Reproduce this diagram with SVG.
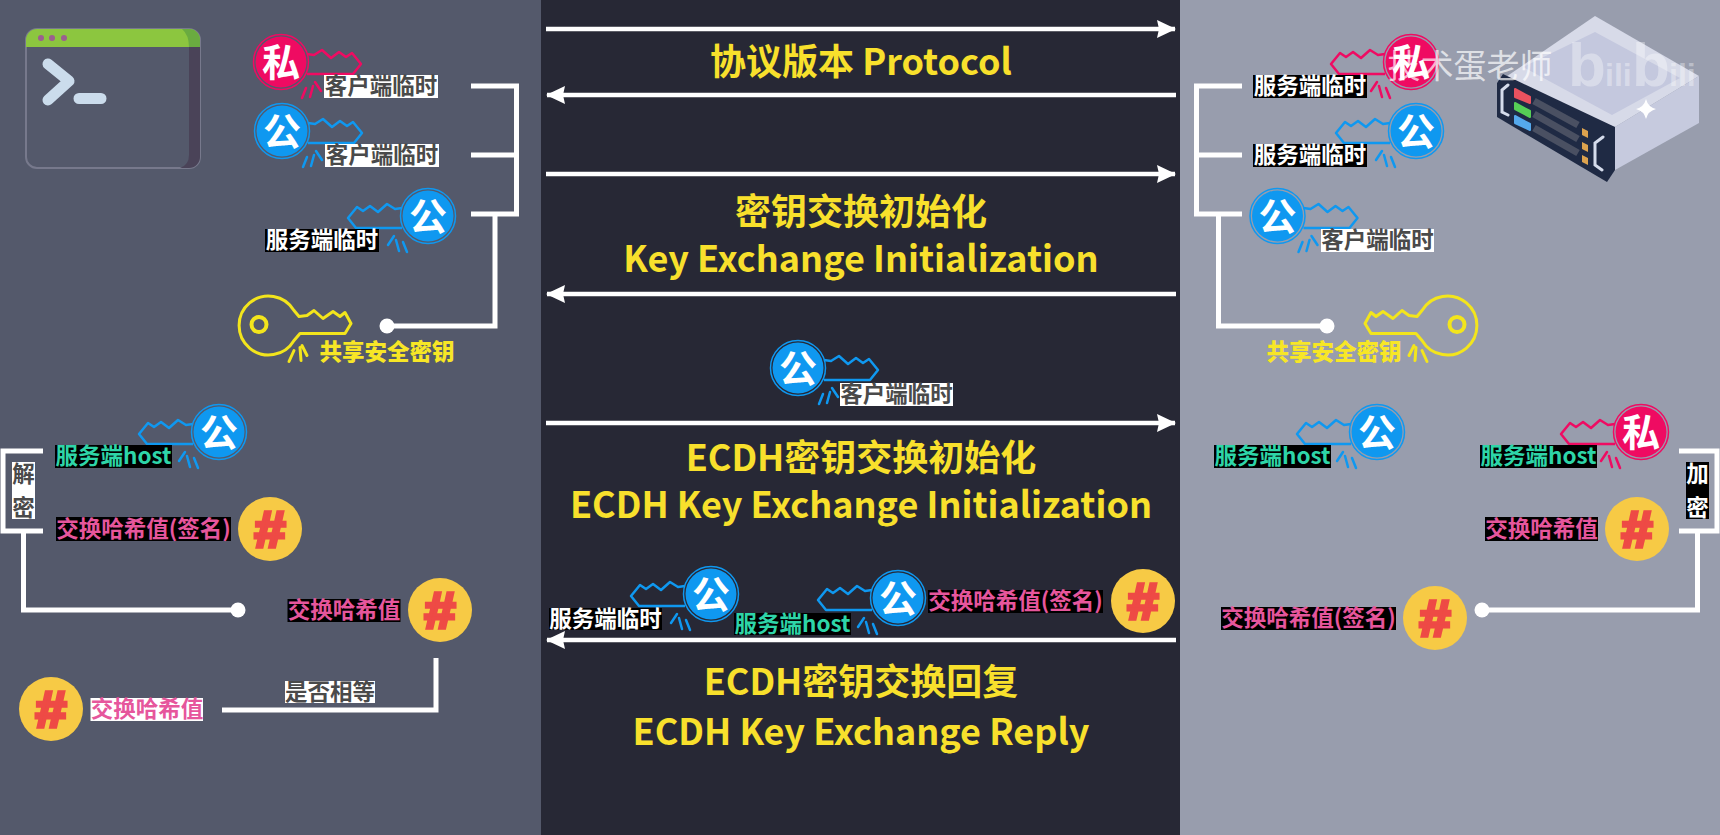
<svg xmlns="http://www.w3.org/2000/svg" width="1720" height="835" viewBox="0 0 1720 835">
<style>
text{font-family:"Noto Sans CJK SC","Liberation Sans",sans-serif;text-anchor:middle}
.t{font-size:22.5px;font-weight:700}
.dk{fill:#4a4a4a}.wh{fill:#fff}.tl{fill:#2ed5a8}.pk{fill:#e6569c}.yl{fill:#f7e626;font-weight:900}
.rw{fill:#fff}.rk{fill:#000}
.h{font-size:36px;font-weight:700;fill:#f8e02c}
.g{font-size:38px;font-weight:700;fill:#fff}
.c{fill:#f7ca45}
.n{font-family:"Liberation Sans",sans-serif;font-size:50px;font-weight:700;fill:#ee4a45;stroke:#ee4a45;stroke-width:3.5px}
.w{fill:none;stroke:#fff;stroke-width:5}
.a{fill:none;stroke:#fff;stroke-width:4.5}
.d{fill:#fff}
.bb{font-family:"Liberation Sans",sans-serif;font-weight:700;text-anchor:start;fill:#fff;fill-opacity:.35}
</style>
<defs>
<g id="key" fill="none" stroke="currentColor" stroke-width="2.5" stroke-linejoin="round">
<path d="M26,-8 L33,-7 L41,-12 L50,-4 L58,-10 L65,-5 L71,-9 L80,2 L72,12 L26,12"/>
<path d="M21,36 L25,26 M29,35 L32,24 M40,29 L34,20" stroke-linecap="round"/>
<circle r="27.5" fill="none" stroke-width="1.5"/>
<circle r="25.5" fill="currentColor" stroke="none"/>
</g>
<g id="ykey" fill="none" stroke="#f3e51c" stroke-width="3" stroke-linejoin="round">
<path d="M25,-14 L30,-8 L38,-9 L45,-14 L54,-6 L64,-13 L71,-8 L76,-12 L82,-1 L76,9 L31,9 L25,16 A29.5,29.5 0 1 1 25,-14 Z"/>
<circle cx="-10" r="7.5" stroke-width="4"/>
<path d="M20,37 L25,26 M31,23 L32,36 M38,31 L33,21" stroke-linecap="round"/>
</g>
<marker id="ah" markerUnits="userSpaceOnUse" markerWidth="20" markerHeight="20" refX="18" refY="10" orient="auto-start-reverse">
<path d="M0,1 L19,10 L0,19 L2,10 Z" fill="#fff"/>
</marker>
</defs>

<g id="panels">
<rect x="0" y="0" width="541" height="835" fill="#54596b"/>
<rect x="541" y="0" width="639" height="835" fill="#272835"/>
<rect x="1180" y="0" width="540" height="835" fill="#989dad"/>
</g>

<g id="connectors">
<line class="a" x1="546" y1="29" x2="1175" y2="29" marker-end="url(#ah)"/>
<line class="a" x1="1176" y1="95" x2="547" y2="95" marker-end="url(#ah)"/>
<line class="a" x1="546" y1="174" x2="1175" y2="174" marker-end="url(#ah)"/>
<line class="a" x1="1176" y1="294" x2="547" y2="294" marker-end="url(#ah)"/>
<line class="a" x1="546" y1="423" x2="1175" y2="423" marker-end="url(#ah)"/>
<line class="a" x1="1176" y1="640" x2="547" y2="640" marker-end="url(#ah)"/>
<path class="w" d="M471,86 H516.5 V214 H471 M471,155 H516.5 M495,214 V326 H387"/>
<circle class="d" cx="387" cy="326" r="7.5"/>
<path class="w" d="M1242,86 H1196.5 V214 H1242 M1242,155 H1196.5 M1218.5,214 V326 H1327"/>
<circle class="d" cx="1327" cy="326" r="7.5"/>
<path class="w" d="M43,451 H3 V531 H43 M23.5,531 V610 H238"/>
<circle class="d" cx="238" cy="610" r="7.5"/>
<path class="w" d="M436,658 V710 H222"/>
<path class="w" d="M1679,451 H1717 V531 H1679 M1697.5,531 V610 H1482"/>
<circle class="d" cx="1482" cy="610" r="7.5"/>
</g>

<g id="client-terminal">
<rect x="26" y="29" width="174" height="139" rx="11" fill="#54596b" stroke="#77798c" stroke-width="2"/>
<path d="M189,47 H200 V157 a11,11 0 0 1 -11,11 H180 Q189,165 189,155 Z" fill="#4a4358"/>
<path d="M26,47 V40 a11,11 0 0 1 11,-11 H189 a11,11 0 0 1 11,11 V47 Z" fill="#8cc63f"/>
<path d="M182,29 H189 a11,11 0 0 1 11,11 V47 H189 Q189,35 182,29 Z" fill="#6aab40"/>
<circle cx="41" cy="38" r="3" fill="#9b5f8f"/><circle cx="52" cy="38" r="3" fill="#9b5f8f"/><circle cx="64" cy="38" r="3" fill="#9b5f8f"/>
<path d="M48,64 L69,81 L48,100 M79,98.5 H101" fill="none" stroke="#cbdcec" stroke-width="11" stroke-linecap="round" stroke-linejoin="round"/>
</g>

<g id="server">
<path d="M1595,16 L1699,76 L1615,127 L1497,83 Z" fill="#d7dae8"/>
<path d="M1595,32 L1680,78 L1612,115 L1523,67 Z" fill="#c4c8de"/>
<path d="M1615,127 L1699,76 V123 L1615,170 Z" fill="#c6cade"/>
<path d="M1497,83 L1503,74 L1615,127 V170 L1607,182 L1497,117 Z" fill="#1f2a44"/>
<path d="M1515,89 L1530,97 V103 L1515,97 Z" fill="#e9525f" stroke="#e9525f" stroke-width="2" stroke-linejoin="round"/>
<path d="M1515,103 L1530,111 V117 L1515,109 Z" fill="#56cf56" stroke="#56cf56" stroke-width="2" stroke-linejoin="round"/>
<path d="M1515,116 L1530,124 V130 L1515,123 Z" fill="#55a9ec" stroke="#55a9ec" stroke-width="2" stroke-linejoin="round"/>
<path d="M1534,101 L1578,125 M1534,114 L1578,139 M1534,128 L1578,153" stroke="#4a5062" stroke-width="7" fill="none"/>
<path d="M1582,128 L1588,131 V138 L1582,135 Z M1582,142 L1588,145 V152 L1582,149 Z M1582,155 L1588,158 V165 L1582,162 Z" fill="#dca24e"/>
<path d="M1508,85 L1502,90 V112 L1508,115 M1603,137 L1595,143 V165 L1602,170" fill="none" stroke="#d5dcec" stroke-width="3" stroke-linecap="round"/>
<path d="M1646,99 Q1648,107 1656,109 Q1648,111 1646,119 Q1644,111 1636,109 Q1644,107 1646,99 Z" fill="#fff"/>
</g>

<g id="c-priv" color="#ef0b62"><use href="#key" transform="translate(281,62)"/><text class="g" x="281" y="76">私</text>
<rect class="rw" x="324" y="75" width="114" height="23"/><text class="t dk" x="381" y="94">客户端临时</text></g>
<g id="c-pub" color="#0f98f0"><use href="#key" transform="translate(282,131)"/><text class="g" x="282" y="145">公</text>
<rect class="rw" x="325" y="144" width="114" height="23"/><text class="t dk" x="382" y="163">客户端临时</text></g>
<g id="c-srv-pub" color="#0f98f0"><use href="#key" transform="translate(428,216) scale(-1,1)"/><text class="g" x="428" y="230">公</text>
<rect class="rk" x="265" y="229" width="114" height="23"/><text class="t wh" x="322" y="248">服务端临时</text></g>
<g id="c-shared"><use href="#ykey" transform="translate(269,324.5)"/><text class="t yl" x="387" y="360">共享安全密钥</text></g>

<g id="c-host-pub" color="#0f98f0"><use href="#key" transform="translate(219,432) scale(-1,1)"/><text class="g" x="219" y="446">公</text>
<rect class="rk" x="55" y="445" width="117" height="23"/><text class="t tl" x="113.5" y="464">服务端host</text></g>
<g id="c-decrypt"><rect class="rw" x="12" y="462" width="23" height="57"/><text class="t dk" x="23.5" y="482">解</text><text class="t dk" x="23.5" y="516">密</text></g>
<g id="c-hash-sign"><rect class="rk" x="56" y="517" width="175" height="24"/><text class="t pk" x="143.5" y="537">交换哈希值(签名)</text>
<circle class="c" cx="270" cy="529" r="32"/><text class="n" x="270" y="547" textLength="31" lengthAdjust="spacingAndGlyphs">#</text></g>
<g id="c-hash"><rect class="rk" x="287.5" y="599" width="113" height="23"/><text class="t pk" x="344" y="618">交换哈希值</text>
<circle class="c" cx="440" cy="610" r="32"/><text class="n" x="440" y="628" textLength="31" lengthAdjust="spacingAndGlyphs">#</text></g>
<g id="c-hash-own"><circle class="c" cx="51" cy="709" r="32"/><text class="n" x="51" y="727" textLength="31" lengthAdjust="spacingAndGlyphs">#</text>
<rect class="rw" x="90.5" y="698" width="112.5" height="23"/><text class="t pk" x="147" y="717">交换哈希值</text></g>
<g id="c-equal"><rect class="rw" x="285" y="681" width="90" height="22"/><text class="t dk" x="330" y="700">是否相等</text></g>

<g id="msg-protocol"><text class="h" x="861" y="75">协议版本 Protocol</text></g>
<g id="msg-kexinit"><text class="h" x="861" y="225">密钥交换初始化</text><text class="h" x="861" y="272">Key Exchange Initialization</text></g>
<g id="msg-ecdh-init" color="#0f98f0"><use href="#key" transform="translate(798,368)"/><text class="g" x="798" y="382">公</text>
<rect class="rw" x="840" y="383" width="113" height="23"/><text class="t dk" x="896.5" y="402">客户端临时</text>
<text class="h" x="861" y="471">ECDH密钥交换初始化</text><text class="h" x="861" y="518">ECDH Key Exchange Initialization</text></g>
<g id="msg-ecdh-reply" color="#0f98f0"><use href="#key" transform="translate(711,594) scale(-1,1)"/><text class="g" x="711" y="608">公</text>
<rect class="rk" x="549" y="608" width="113" height="22"/><text class="t wh" x="605.5" y="627">服务端临时</text>
<use href="#key" transform="translate(898,598) scale(-1,1)"/><text class="g" x="898" y="612">公</text>
<rect class="rk" x="734" y="613" width="117" height="22"/><text class="t tl" x="792.5" y="632">服务端host</text>
<rect class="rk" x="928" y="590" width="175" height="23"/><text class="t pk" x="1015.5" y="609">交换哈希值(签名)</text>
<circle class="c" cx="1143" cy="601" r="32"/><text class="n" x="1143" y="619" textLength="31" lengthAdjust="spacingAndGlyphs">#</text>
<text class="h" x="861" y="695">ECDH密钥交换回复</text><text class="h" x="861" y="745">ECDH Key Exchange Reply</text></g>

<g id="s-priv" color="#ef0b62"><use href="#key" transform="translate(1411,62) scale(-1,1)"/><text class="g" x="1411" y="76">私</text>
<rect class="rk" x="1253" y="75" width="114" height="23"/><text class="t wh" x="1310" y="94">服务端临时</text></g>
<g id="s-pub" color="#0f98f0"><use href="#key" transform="translate(1416,131) scale(-1,1)"/><text class="g" x="1416" y="145">公</text>
<rect class="rk" x="1253" y="144" width="114" height="23"/><text class="t wh" x="1310" y="163">服务端临时</text></g>
<g id="s-cli-pub" color="#0f98f0"><use href="#key" transform="translate(1277.5,216)"/><text class="g" x="1277.5" y="230">公</text>
<rect class="rw" x="1321" y="229" width="113" height="23"/><text class="t dk" x="1377.5" y="248">客户端临时</text></g>
<g id="s-shared"><use href="#ykey" transform="translate(1447,324.5) scale(-1,1)"/><text class="t yl" x="1334" y="360">共享安全密钥</text></g>
<g id="s-host-pub" color="#0f98f0"><use href="#key" transform="translate(1377,432) scale(-1,1)"/><text class="g" x="1377" y="446">公</text>
<rect class="rk" x="1214" y="445" width="117" height="23"/><text class="t tl" x="1272.5" y="464">服务端host</text></g>
<g id="s-host-priv" color="#ef0b62"><use href="#key" transform="translate(1641,432) scale(-1,1)"/><text class="g" x="1641" y="446">私</text>
<rect class="rk" x="1480" y="445" width="117" height="23"/><text class="t tl" x="1538.5" y="464">服务端host</text></g>
<g id="s-encrypt"><rect class="rk" x="1686" y="462" width="23" height="57"/><text class="t wh" x="1697.5" y="482">加</text><text class="t wh" x="1697.5" y="516">密</text></g>
<g id="s-hash"><rect class="rk" x="1485" y="517" width="113" height="24"/><text class="t pk" x="1541.5" y="537">交换哈希值</text>
<circle class="c" cx="1637" cy="529" r="32"/><text class="n" x="1637" y="547" textLength="31" lengthAdjust="spacingAndGlyphs">#</text></g>
<g id="s-hash-sign"><rect class="rk" x="1221" y="607" width="175" height="23"/><text class="t pk" x="1308.5" y="626">交换哈希值(签名)</text>
<circle class="c" cx="1435" cy="618" r="32"/><text class="n" x="1435" y="636" textLength="31" lengthAdjust="spacingAndGlyphs">#</text></g>

<g id="watermark">
<text x="1470" y="78" fill="#fff" fill-opacity=".7" style="font-size:33px;font-weight:400">技术蛋老师</text>
<text class="bb" x="1568" y="86" font-size="62">b</text><text class="bb" x="1605" y="86" font-size="32">ili</text><text class="bb" x="1632" y="86" font-size="62">b</text><text class="bb" x="1669" y="86" font-size="32">ili</text>
</g>
</svg>
